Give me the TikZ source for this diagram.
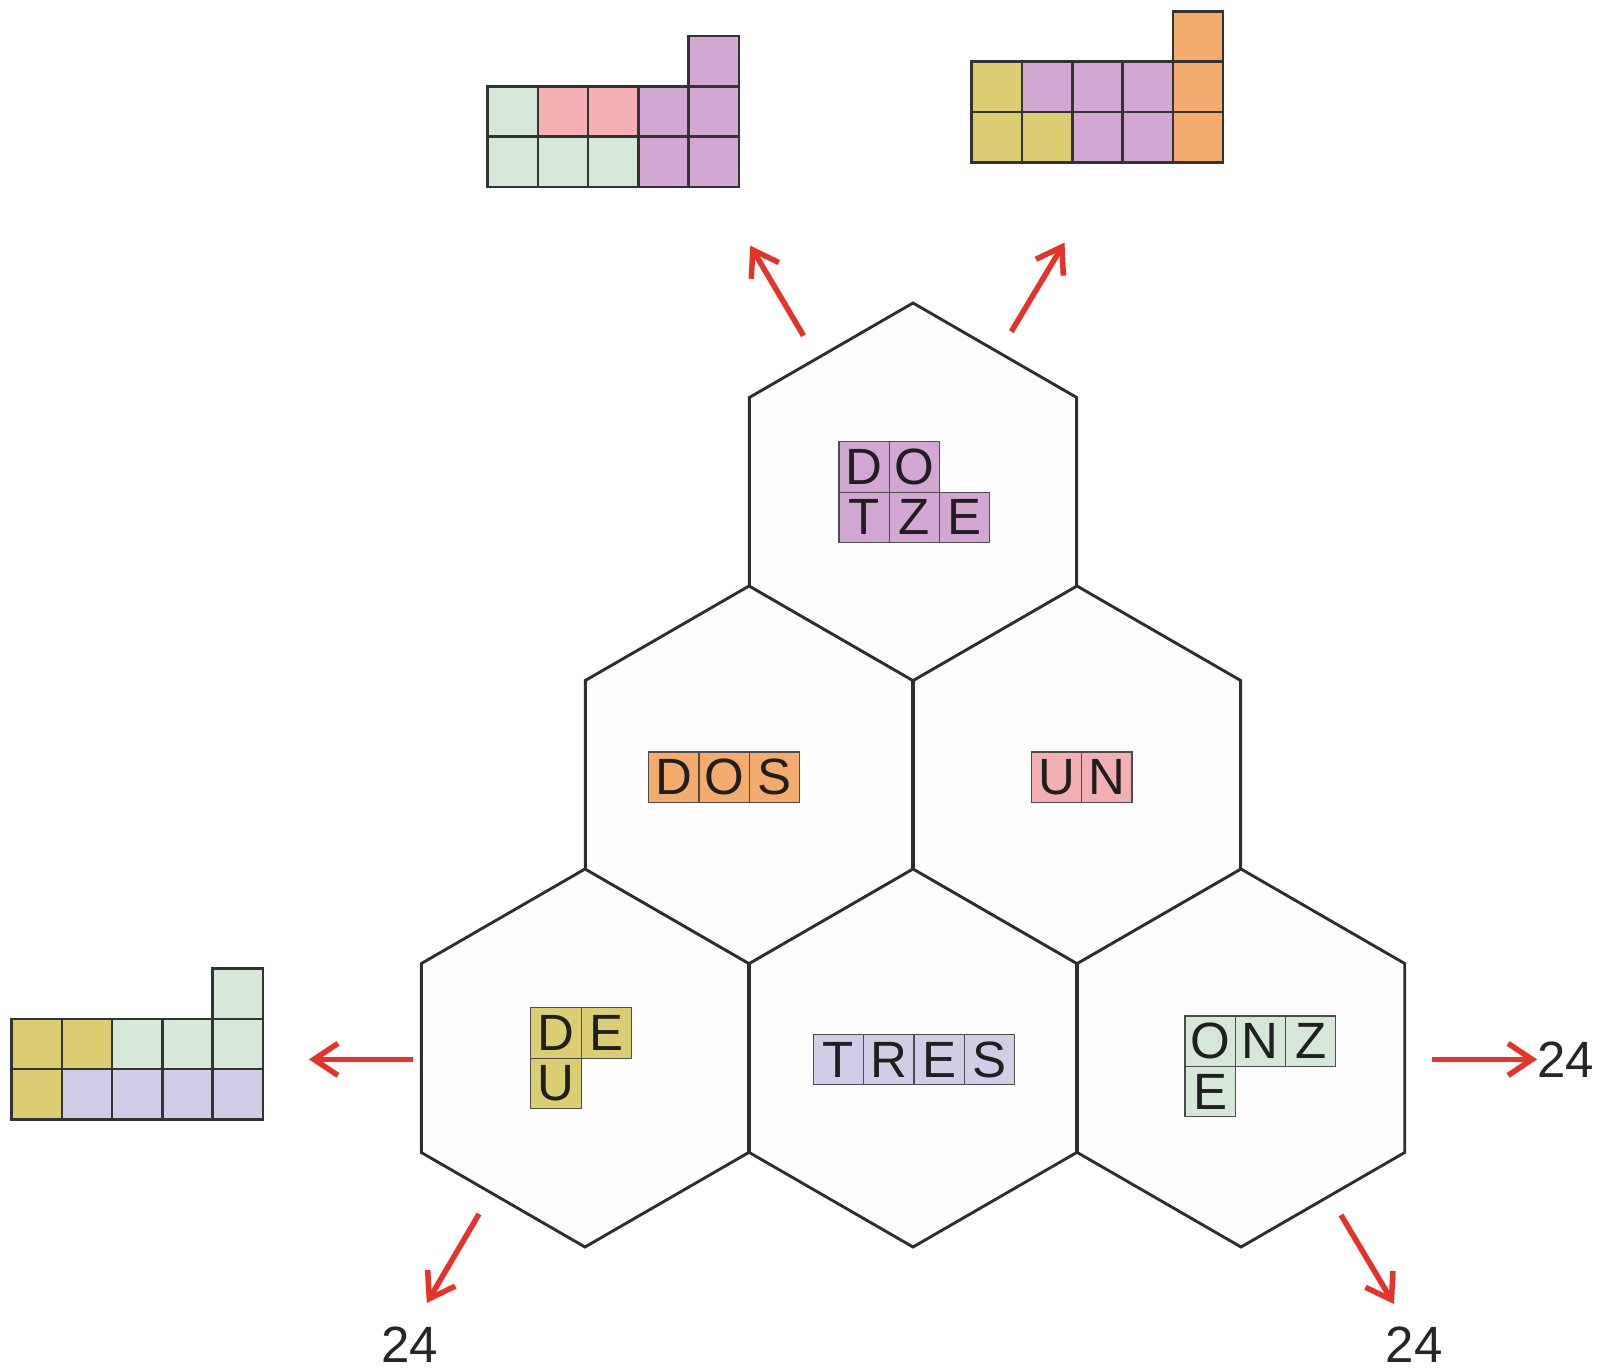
\documentclass[tikz,border=0pt]{standalone}
\usepackage{fontspec}
\setmainfont{Liberation Sans}
\usetikzlibrary{arrows.meta,shapes.geometric}

\definecolor{cpurple}{HTML}{D2A8D2}
\definecolor{cpink}{HTML}{F3B0B3}
\definecolor{cgreen}{HTML}{D5E8D8}
\definecolor{cyellow}{HTML}{DBCD72}
\definecolor{corange}{HTML}{F4AC6E}
\definecolor{clilac}{HTML}{D0CDE6}
\definecolor{cred}{HTML}{E5332A}

\begin{document}
\begin{tikzpicture}[x=1pt, y=-1pt,
  hex/.style={regular polygon, regular polygon sides=6, rotate=30,
              minimum size=378pt, inner sep=0pt, outer sep=0pt,
              draw=black!82, line width=2.9pt, fill=black!0.6},
  sq/.style={draw=black!80, line width=2.5pt, minimum size=50.3pt,
             inner sep=0pt, anchor=north west},
  tile/.style={sq, draw=black!70, line width=1.2pt, text=black!88,
               font=\fontsize{51}{51}\selectfont},
  arr/.style={-{Straight Barb[length=24pt,width=32pt]}, line width=5.5pt, cred},
  num/.style={font=\fontsize{51}{51}\selectfont, text=black!85, inner sep=0pt}
]
  \useasboundingbox (0,0) rectangle (1605,1372);

  % honeycomb
  \node[hex] (dotze) at (913,492) {};
  \node[hex] (dos) at (749,775) {};
  \node[hex] (un) at (1077,775) {};
  \node[hex] (deu) at (585,1058) {};
  \node[hex] (tres) at (913,1058) {};
  \node[hex] (onze) at (1241,1058) {};

  % letter tiles
  \foreach \l [count=\i from 0] in {D,O}
    \node[tile, fill=cpurple] (dotze-a\i) at (838.3+\i*50.3,441.2) {\l};
  \foreach \l [count=\i from 0] in {T,Z,E}
    \node[tile, fill=cpurple] (dotze-b\i) at (838.3+\i*50.3,491.5) {\l};
  \foreach \l [count=\i from 0] in {D,O,S}
    \node[tile, fill=corange] (dos-\i) at (648+\i*50.3,751.3) {\l};
  \foreach \l [count=\i from 0] in {U,N}
    \node[tile, fill=cpink] (un-\i) at (1030.8+\i*50.3,751.3) {\l};
  \foreach \l [count=\i from 0] in {D,E}
    \node[tile, fill=cyellow] (deu-a\i) at (530.2+\i*50.3,1007.2) {\l};
  \node[tile, fill=cyellow] (deu-b0) at (530.2,1057.5) {U};
  \foreach \l [count=\i from 0] in {T,R,E,S}
    \node[tile, fill=clilac] (tres-\i) at (812.7+\i*50.3,1033.9) {\l};
  \foreach \l [count=\i from 0] in {O,N,Z}
    \node[tile, fill=cgreen] (onze-a\i) at (1184.3+\i*50.3,1015.4) {\l};
  \node[tile, fill=cgreen] (onze-b0) at (1184.3,1065.7) {E};

  % solved grids
  \node[sq, fill=cpurple] (ga-0) at (687.4,34.8) {};
  \foreach \c [count=\i from 0] in {cgreen,cpink,cpink,cpurple,cpurple}
    \node[sq, fill=\c] (ga-1\i) at (486.2+\i*50.3,85.1) {};
  \foreach \c [count=\i from 0] in {cgreen,cgreen,cgreen,cpurple,cpurple}
    \node[sq, fill=\c] (ga-2\i) at (486.2+\i*50.3,135.4) {};

  \node[sq, fill=corange] (gb-0) at (1171.6,10.2) {};
  \foreach \c [count=\i from 0] in {cyellow,cpurple,cpurple,cpurple,corange}
    \node[sq, fill=\c] (gb-1\i) at (970.4+\i*50.3,60.5) {};
  \foreach \c [count=\i from 0] in {cyellow,cyellow,cpurple,cpurple,corange}
    \node[sq, fill=\c] (gb-2\i) at (970.4+\i*50.3,110.8) {};

  \node[sq, fill=cgreen] (gc-0) at (211.4,967.3) {};
  \foreach \c [count=\i from 0] in {cyellow,cyellow,cgreen,cgreen,cgreen}
    \node[sq, fill=\c] (gc-1\i) at (10.2+\i*50.3,1017.6) {};
  \foreach \c [count=\i from 0] in {cyellow,clilac,clilac,clilac,clilac}
    \node[sq, fill=\c] (gc-2\i) at (10.2+\i*50.3,1067.9) {};

  % counts
  \node[num, anchor=west] (n-r) at (1537,1059.4) {24};
  \node[num] (n-bl) at (410,1345) {24};
  \node[num] (n-br) at (1414,1345) {24};

  % arrows
  \coordinate (tl-s) at (803.5,335.7);
  \coordinate (tl-e) at (750.3,245.7);
  \coordinate (tr-s) at (1011.3,331.6);
  \coordinate (tr-e) at (1064.5,242.6);
  \coordinate (l-s) at (412.5,1059.4);
  \coordinate (l-e) at (309,1059.4);
  \coordinate (r-s) at (1432,1059.4);
  \coordinate (bl-s) at (479,1214);
  \coordinate (bl-e) at (426.8,1303);
  \coordinate (br-s) at (1341,1215);
  \coordinate (br-e) at (1394,1304);
  \draw[arr] (tl-s) -- (tl-e);
  \draw[arr] (tr-s) -- (tr-e);
  \draw[arr] (l-s) -- (l-e);
  \draw[arr] (r-s) -- (n-r.west);
  \draw[arr] (bl-s) -- (bl-e);
  \draw[arr] (br-s) -- (br-e);
\end{tikzpicture}
\end{document}
